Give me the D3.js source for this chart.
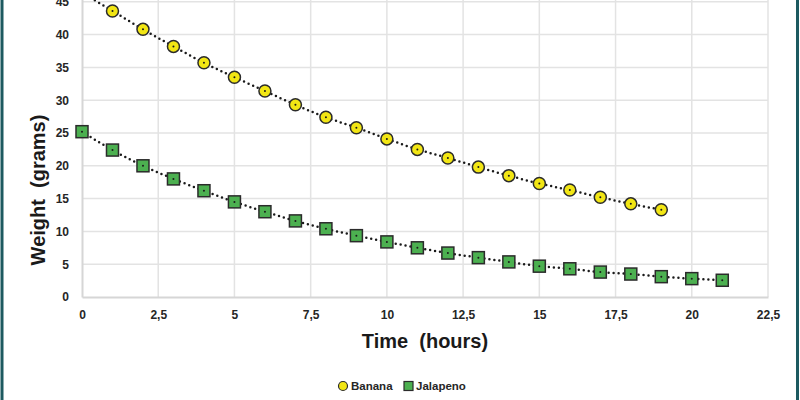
<!DOCTYPE html>
<html>
<head>
  <meta charset="utf-8">
  <script src="https://d3js.org/d3.v7.min.js"></script>
  <style>
    body { margin: 0; background: #fff; }
    svg { display: block; font-family: "Liberation Sans", Arial, sans-serif; }
    .tick text { font-size: 12px; font-weight: bold; fill: #262626; }
    .grid line { stroke: #e3e3e3; stroke-width: 1.5; }
  </style>
</head>
<body>
  <div id="chart"></div>
  <script>
    // values
    const hours = d3.range(0, 22);
    const banana = [46.4, 43.6, 40.8, 38.2, 35.7, 33.5, 31.4, 29.3, 27.4, 25.8, 24.1,
                    22.5, 21.2, 19.8, 18.5, 17.3, 16.3, 15.2, 14.2, 13.3];
    const jalapeno = [25.2, 22.4, 20.0, 18.0, 16.2, 14.5, 13.0, 11.6, 10.4, 9.35, 8.4,
                      7.5, 6.7, 6.0, 5.35, 4.7, 4.3, 3.8, 3.5, 3.1, 2.8, 2.55];
    const xTicks = [0, 2.5, 5, 7.5, 10, 12.5, 15, 17.5, 20, 22.5];
    const yTicks = [0, 5, 10, 15, 20, 25, 30, 35, 40, 45];

    const width = 800, height = 400;
    const margin = { left: 82, right: 32, top: -31, bottom: 103 };

    const svg = d3.select("#chart").append("svg")
      .attr("width", width).attr("height", height);

    const x = d3.scaleLinear().domain([0, 22.5]).range([margin.left, width - margin.right]);
    const y = d3.scaleLinear().domain([0, 50]).range([height - margin.bottom, margin.top]);

    // grid
    const grid = svg.append("g").attr("class", "grid");
    grid.selectAll(".h").data(yTicks.slice(1)).join("line")
      .attr("x1", x(0)).attr("x2", x(22.5))
      .attr("y1", d => y(d)).attr("y2", d => y(d));
    grid.selectAll(".v").data(xTicks.slice(1)).join("line")
      .attr("y1", y(0)).attr("y2", y(50))
      .attr("x1", d => x(d)).attr("x2", d => x(d));

    // axes
    const xAxis = svg.append("g")
      .attr("transform", `translate(0,${y(0)})`)
      .call(d3.axisBottom(x).tickValues(xTicks).tickSize(0).tickPadding(13)
        .tickFormat(d => d3.format("~g")(d).replace(".", ",")));
    xAxis.select(".domain").attr("stroke", "#d6d6d6").attr("stroke-width", 2);

    const yAxis = svg.append("g")
      .attr("transform", `translate(${x(0)},0)`)
      .call(d3.axisLeft(y).tickValues(yTicks).tickSize(0).tickPadding(13));
    yAxis.select(".domain").attr("stroke", "#d6d6d6").attr("stroke-width", 2);

    // axis titles
    svg.append("text")
      .attr("x", (x(0) + x(22.5)) / 2).attr("y", 348)
      .attr("text-anchor", "middle")
      .style("font-size", "20px").style("font-weight", "bold").attr("fill", "#1a1a1a")
      .attr("xml:space", "preserve")
      .text("Time  (hours)");

    svg.append("text")
      .attr("transform", "translate(45,190) rotate(-90)")
      .attr("text-anchor", "middle")
      .style("font-size", "20px").style("font-weight", "bold").attr("fill", "#1a1a1a")
      .attr("xml:space", "preserve")
      .text("Weight  (grams)");

    const plot = svg.append("g");
    const line = d3.line().x((d, i) => x(hours[i])).y(d => y(d)).curve(d3.curveMonotoneX);

    [banana, jalapeno].forEach(s => {
      plot.append("path")
        .attr("d", line(s))
        .attr("fill", "none")
        .attr("stroke", "#1a1a1a")
        .attr("stroke-width", 2.5)
        .attr("stroke-linecap", "round")
        .attr("stroke-dasharray", "0 5");
    });

    plot.selectAll(".b").data(banana).join("circle")
      .attr("cx", (d, i) => x(hours[i])).attr("cy", d => y(d))
      .attr("r", 6)
      .attr("fill", "#f2e614").attr("stroke", "#2b2b2b").attr("stroke-width", 1.5);

    plot.selectAll(".j").data(jalapeno).join("rect")
      .attr("x", (d, i) => x(hours[i]) - 6).attr("y", d => y(d) - 6)
      .attr("width", 12).attr("height", 12)
      .attr("fill", "#4cb050").attr("stroke", "#2b2b2b").attr("stroke-width", 1.5);

    // centre dots on markers
    [banana, jalapeno].forEach(s => {
      plot.selectAll(null).data(s).join("circle")
        .attr("cx", (d, i) => x(hours[i])).attr("cy", d => y(d))
        .attr("r", 1).attr("fill", "#1a1a1a");
    });

    // legend
    const legend = svg.append("g").attr("transform", "translate(0,386)");
    legend.append("circle").attr("cx", 343).attr("cy", 0).attr("r", 4.5)
      .attr("fill", "#f2e614").attr("stroke", "#2b2b2b").attr("stroke-width", 1.2);
    legend.append("text").attr("x", 351).attr("y", 4)
      .style("font-size", "11.5px").style("font-weight", "bold").attr("fill", "#262626")
      .text("Banana");
    legend.append("rect").attr("x", 404).attr("y", -4.5).attr("width", 9).attr("height", 9)
      .attr("fill", "#4cb050").attr("stroke", "#2b2b2b").attr("stroke-width", 1.2);
    legend.append("text").attr("x", 416).attr("y", 4)
      .style("font-size", "11.5px").style("font-weight", "bold").attr("fill", "#262626")
      .text("Jalapeno");

    // frame borders
    svg.append("rect").attr("x", 0.5).attr("y", 0).attr("width", 3).attr("height", height)
      .attr("fill", "#1d5a60");
    svg.append("rect").attr("x", 796).attr("y", 0).attr("width", 3).attr("height", height)
      .attr("fill", "#1d5a60");
  </script>
</body>
</html>
